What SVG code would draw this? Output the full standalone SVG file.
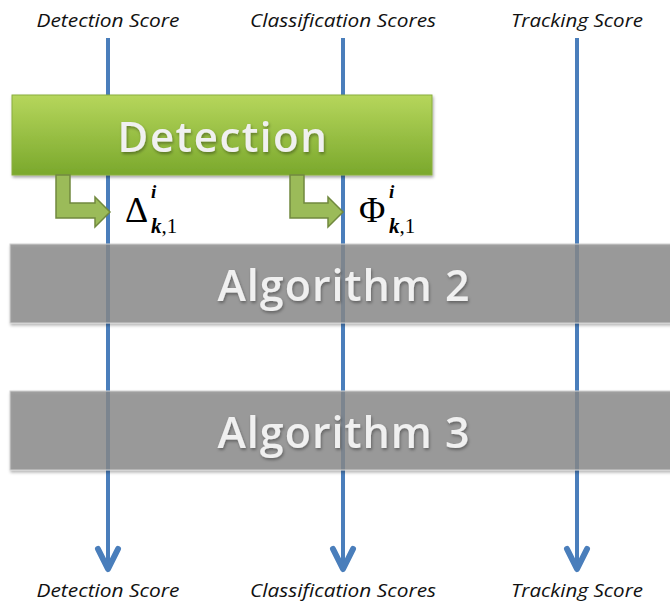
<svg xmlns="http://www.w3.org/2000/svg" width="670" height="604" viewBox="0 0 670 604">
<defs>
<style>
.lbl{font-family:"Open Sans","Liberation Sans",sans-serif;font-style:italic;font-size:19px;fill:#111;text-anchor:middle}
.big{font-family:"Open Sans","Liberation Sans",sans-serif;font-weight:600;fill:#f0f0f0;text-anchor:middle}
.flow{stroke:#4a7ebb;stroke-width:4;fill:none}
.head{fill:none;stroke:#4a7ebb;stroke-width:6;stroke-linejoin:round;stroke-linecap:round}
.bar{fill:#8a8a8a;fill-opacity:0.78;stroke:#d0d0d0;stroke-width:1}
.bent{fill:#9bbb59;stroke:#71893f;stroke-width:1.5}
.math{font-family:"Liberation Serif","DejaVu Serif",serif;fill:#000}
</style>
<linearGradient id="g" x1="0" y1="0" x2="0" y2="1">
<stop offset="0" stop-color="#b6d65c"/>
<stop offset="1" stop-color="#7aa82c"/>
</linearGradient>
<filter id="sh" x="-5%" y="-20%" width="110%" height="150%">
<feDropShadow dx="1" dy="2" stdDeviation="1.5" flood-color="#000" flood-opacity="0.35"/>
</filter>
</defs>
<rect width="670" height="604" fill="#fff"/>
<g id="labels-top">
<text class="lbl" x="108" y="27" textLength="143" lengthAdjust="spacingAndGlyphs">Detection Score</text>
<text class="lbl" x="343" y="27" textLength="186" lengthAdjust="spacingAndGlyphs">Classification Scores</text>
<text class="lbl" x="577" y="27" textLength="132" lengthAdjust="spacingAndGlyphs">Tracking Score</text>
</g>
<g id="connectors">
<line class="flow" x1="108" y1="38" x2="108" y2="566"/>
<line class="flow" x1="343" y1="38" x2="343" y2="566"/>
<line class="flow" x1="577" y1="38" x2="577" y2="566"/>
<path class="head" d="M98,549 L108,569 L118,549"/>
<path class="head" d="M333,549 L343,569 L353,549"/>
<path class="head" d="M567,549 L577,569 L587,549"/>
</g>
<g id="detection">
<rect x="12" y="95" width="420" height="80" fill="url(#g)" stroke="#8aae3e" stroke-width="1" filter="url(#sh)"/>
<text class="big" x="223" y="152" font-size="42" letter-spacing="1.5" filter="url(#sh)">Detection</text>
</g>
<g id="arrow-delta">
<path class="bent" d="M56,175 L70,175 L70,203 L95,203 L95,197 L110,212 L95,227 L95,218 L56,218 Z"/>
<text class="math" x="125" y="222" font-size="36">Δ</text>
<text class="math" x="151" y="198" font-size="19" font-style="italic" font-weight="bold">i</text>
<text class="math" x="151" y="233" font-size="21"><tspan font-style="italic" font-weight="bold">k</tspan>,1</text>
</g>
<g id="arrow-phi">
<path class="bent" d="M290,175 L304,175 L304,203 L328,203 L328,197 L343,212 L328,227 L328,218 L290,218 Z"/>
<text class="math" x="359" y="222" font-size="36">Φ</text>
<text class="math" x="389" y="198" font-size="19" font-style="italic" font-weight="bold">i</text>
<text class="math" x="389" y="233" font-size="21"><tspan font-style="italic" font-weight="bold">k</tspan>,1</text>
</g>
<g id="algorithm2">
<rect class="bar" x="10" y="244" width="670" height="79" filter="url(#sh)"/>
<text class="big" x="344" y="301" font-size="43" letter-spacing="1" filter="url(#sh)">Algorithm 2</text>
</g>
<g id="algorithm3">
<rect class="bar" x="10" y="391" width="670" height="79" filter="url(#sh)"/>
<text class="big" x="344" y="448" font-size="43" letter-spacing="1" filter="url(#sh)">Algorithm 3</text>
</g>
<g id="labels-bottom">
<text class="lbl" x="108" y="597" textLength="143" lengthAdjust="spacingAndGlyphs">Detection Score</text>
<text class="lbl" x="343" y="597" textLength="186" lengthAdjust="spacingAndGlyphs">Classification Scores</text>
<text class="lbl" x="577" y="597" textLength="132" lengthAdjust="spacingAndGlyphs">Tracking Score</text>
</g>
</svg>
